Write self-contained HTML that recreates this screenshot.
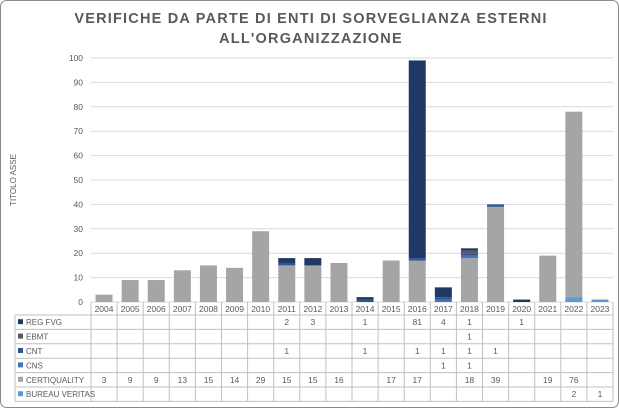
<!DOCTYPE html>
<html><head><meta charset="utf-8"><style>
html,body{margin:0;padding:0;background:#fff;}
svg{display:block;font-family:"Liberation Sans",sans-serif;}
</style></head><body>
<svg width="619" height="409" viewBox="0 0 619 409">
<rect x="0.5" y="0.5" width="618" height="407" rx="6" fill="#fff" stroke="#8a8a8a"/>
<text x="311" y="23" text-anchor="middle" font-size="14.5" font-weight="bold" fill="#595959" letter-spacing="1.2">VERIFICHE DA PARTE DI ENTI DI SORVEGLIANZA ESTERNI</text>
<text x="311" y="43" text-anchor="middle" font-size="14.5" font-weight="bold" fill="#595959" letter-spacing="1.2">ALL'ORGANIZZAZIONE</text>
<text transform="translate(16,180) rotate(-90)" text-anchor="middle" font-size="8" fill="#595959">TITOLO ASSE</text>
<g id="grid"></g><g id="bars"></g><g id="table"></g>
</svg>
<script>
const years=["2004","2005","2006","2007","2008","2009","2010","2011","2012","2013","2014","2015","2016","2017","2018","2019","2020","2021","2022","2023"];
const seriesNames=["REG FVG","EBMT","CNT","CNS","CERTIQUALITY","BUREAU VERITAS"];
const seriesColors=["#203864","#5a5a5a","#2f5597","#4472c4","#a5a5a5","#5b9bd5"];
const regFvg=[null,null,null,null,null,null,null,2,3,null,1,null,81,4,1,null,1,null,null,null];
const ebmt=[null,null,null,null,null,null,null,null,null,null,null,null,null,null,1,null,null,null,null,null];
const cnt=[null,null,null,null,null,null,null,1,null,null,1,null,1,1,1,1,null,null,null,null];
const cns=[null,null,null,null,null,null,null,null,null,null,null,null,null,1,1,null,null,null,null,null];
const certiquality=[3,9,9,13,15,14,29,15,15,16,null,17,17,null,18,39,null,19,76,null];
const bureauVeritas=[null,null,null,null,null,null,null,null,null,null,null,null,null,null,null,null,null,null,2,1];
const yTicks=[0,10,20,30,40,50,60,70,80,90,100];
const NS="http://www.w3.org/2000/svg";
const series=[regFvg,ebmt,cnt,cns,certiquality,bureauVeritas];
const x0=91,x1=613,y0=302,yTop=58,yMax=100;
const cw=(x1-x0)/years.length;
const yS=v=>y0-(v/yMax)*(y0-yTop);
function mk(t,a,p){const e=document.createElementNS(NS,t);for(const k in a)e.setAttribute(k,a[k]);p.appendChild(e);return e;}
const grid=document.getElementById('grid'),bars=document.getElementById('bars'),tbl=document.getElementById('table');
yTicks.forEach(t=>{
 const l=mk('line',{x1:x0,x2:x1,y1:yS(t),y2:yS(t),stroke:'#d9d9d9','stroke-width':1},grid);
 
 
 const tx=mk('text',{x:83,y:yS(t)+3,'text-anchor':'end','font-size':8.5,fill:'#595959'},grid);
 tx.textContent=t;
 
 
});
const bw=17;
years.forEach((yr,i)=>{
 let acc=0;
 for(let s=series.length-1;s>=0;s--){
  const v=series[s][i];if(!v)continue;
  const r=mk('rect',{x:x0+i*cw+(cw-bw)/2,y:yS(acc+v),width:bw,height:yS(acc)-yS(acc+v),fill:seriesColors[s]},bars);
  
  
  acc+=v;
 }
});
const rh=14.4,tTop=302,hdrH=13;
const tc='#bfbfbf';
// header row
years.forEach((yr,i)=>{
 const t=mk('text',{x:x0+i*cw+cw/2,y:tTop+10,'text-anchor':'middle','font-size':8.5,fill:'#595959'},tbl);
 t.textContent=yr;
 
 
});
const rowsTop=tTop+hdrH, bottom=rowsTop+rh*series.length;
for(let i=0;i<=years.length;i++){mk('line',{x1:x0+i*cw,x2:x0+i*cw,y1:tTop,y2:bottom,stroke:tc},tbl);}
for(let r=0;r<=series.length;r++){mk('line',{x1:15,x2:x1,y1:rowsTop+r*rh,y2:rowsTop+r*rh,stroke:tc},tbl);}
mk('line',{x1:15,x2:15,y1:rowsTop,y2:bottom,stroke:tc},tbl);
seriesNames.forEach((n,s)=>{
 const cy=rowsTop+s*rh+rh/2;
 const k=mk('rect',{x:18,y:cy-3,width:5,height:5,fill:seriesColors[s]},tbl);
 
 
 const t=mk('text',{x:26,y:cy+3,'font-size':8,fill:'#595959'},tbl);
 t.textContent=n;
 
 
 series[s].forEach((v,i)=>{
  if(v==null)return;
  const c=mk('text',{x:x0+i*cw+cw/2,y:cy+3,'text-anchor':'middle','font-size':8.5,fill:'#595959'},tbl);
  c.textContent=v;
  
  
 });
});
</script>
</body></html>
